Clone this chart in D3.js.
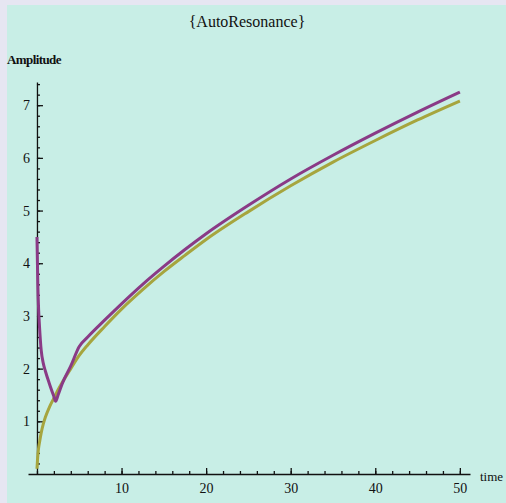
<!DOCTYPE html>
<html>
<head>
<meta charset="utf-8">
<script src="https://cdn.jsdelivr.net/npm/d3@7"></script>
<style>
  html, body { margin: 0; padding: 0; background: #e6e6f2; }
  svg { display: block; }
  text { font-family: "Liberation Serif", "DejaVu Serif", serif; fill: #111; }
  .axis path, .axis line { stroke: #111; stroke-width: 1.3; }
</style>
</head>
<body>
<svg id="thesvg" width="506" height="503"></svg>
<script>
'use strict';

// values
let tPurple = [0, 0.1, 0.2, 0.3, 0.5, 0.75, 1, 1.5, 2, 2.2, 2.5, 3, 4, 5, 6, 8, 10, 12.5, 15, 17.5, 20, 25, 30, 35, 40, 45, 50],
    aPurple = [4.5, 3.6, 3.1, 2.8, 2.35, 2.1, 1.95, 1.7, 1.47, 1.38, 1.5, 1.72, 2.05, 2.42, 2.6, 2.92, 3.23, 3.6, 3.94, 4.26, 4.56, 5.1, 5.6, 6.05, 6.47, 6.87, 7.25];
let tGreen = [0, 0.1, 0.2, 0.3, 0.5, 0.75, 1, 1.5, 2, 2.5, 3, 4, 5, 6, 8, 10, 12.5, 15, 17.5, 20, 25, 30, 35, 40, 45, 50],
    aGreen = [0.1, 0.35, 0.5, 0.6, 0.78, 0.95, 1.08, 1.28, 1.44, 1.6, 1.74, 2.0, 2.25, 2.45, 2.8, 3.13, 3.5, 3.84, 4.15, 4.45, 4.98, 5.47, 5.92, 6.33, 6.72, 7.08];
let xTicks = [10, 20, 30, 40, 50],
    yTicks = [1, 2, 3, 4, 5, 6, 7];

var svg = d3.select("#thesvg");

// mint panel
svg.append("rect")
    .attr("x", 7).attr("y", 5)
    .attr("width", 499).attr("height", 498)
    .attr("fill", "#c8eee6");

var x = d3.scaleLinear().domain([-1.06, 51.2]).range([28, 470]),
    y = d3.scaleLinear().domain([0, 7.44]).range([474, 82]);

// x axis, ticks pointing up
svg.append("g")
    .attr("class", "axis")
    .attr("transform", "translate(0," + y(0) + ")")
    .call(d3.axisBottom(x).tickValues(d3.range(0, 51, 2)).tickSizeInner(-3).tickSizeOuter(0).tickFormat(""));
svg.append("g")
    .attr("class", "axis")
    .attr("transform", "translate(0," + y(0) + ")")
    .call(d3.axisBottom(x).tickValues(xTicks).tickSizeInner(-6).tickSizeOuter(0).tickPadding(9))
    .call(g => g.select(".domain").remove())
    .selectAll("text").style("font-size", "14px").style("font-family", "'Liberation Serif', serif");

// y axis, ticks pointing right
svg.append("g")
    .attr("class", "axis")
    .attr("transform", "translate(" + x(0) + ",0)")
    .call(d3.axisLeft(y).tickValues(d3.range(0.2, 7.41, 0.2)).tickSizeInner(-3).tickSizeOuter(0).tickFormat(""));
svg.append("g")
    .attr("class", "axis")
    .attr("transform", "translate(" + x(0) + ",0)")
    .call(d3.axisLeft(y).tickValues(yTicks).tickSizeInner(-6).tickSizeOuter(0).tickPadding(7))
    .call(g => g.select(".domain").remove())
    .selectAll("text").style("font-size", "14px").style("font-family", "'Liberation Serif', serif");

// curves
var line = d3.line()
    .x(function(d) { return x(d[0]); })
    .y(function(d) { return y(d[1]); })
    .curve(d3.curveMonotoneX);

svg.append("path")
    .datum(d3.zip(tGreen, aGreen))
    .attr("d", line)
    .attr("fill", "none")
    .attr("stroke", "#a6a53e")
    .attr("stroke-width", 3);

svg.append("path")
    .datum(d3.zip(tPurple, aPurple))
    .attr("d", line)
    .attr("fill", "none")
    .attr("stroke", "#8a3a86")
    .attr("stroke-width", 3);

// labels
svg.append("text")
    .attr("x", 247).attr("y", 27)
    .attr("text-anchor", "middle")
    .style("font-size", "16px")
    .text("{AutoResonance}");

svg.append("text")
    .attr("x", 7).attr("y", 64)
    .style("font-size", "13px")
    .style("font-weight", "bold")
    .style("letter-spacing", "-0.6px")
    .text("Amplitude");

svg.append("text")
    .attr("x", 480).attr("y", 481)
    .style("font-size", "13px")
    .text("time");
</script>
</body>
</html>
